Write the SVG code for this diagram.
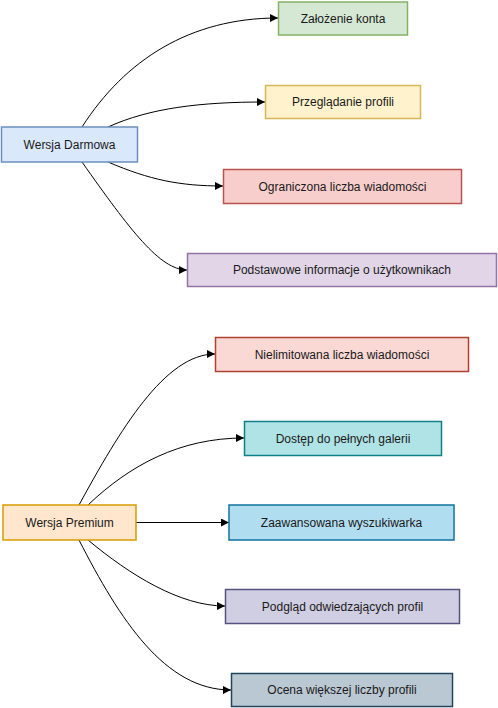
<svg xmlns="http://www.w3.org/2000/svg" width="498" height="708" viewBox="0 0 498 708">
<defs>
<style>
.n rect{stroke-width:1.5}
.n text{font-family:"Liberation Sans",Arial,sans-serif;font-size:12px;fill:#1a1a1a;text-anchor:middle;dominant-baseline:central}
.e path{fill:none;stroke:#000;stroke-width:1}
</style>
<marker id="arr" markerUnits="userSpaceOnUse" markerWidth="9" markerHeight="8" refX="8" refY="4" orient="auto">
<path d="M0,0 L8,4 L0,8 z" fill="#000"/>
</marker>
</defs>
<rect width="498" height="708" fill="#fff"/>
<g id="edges" class="e">
<path d="M82,127 C125,60 190,18 278,18" marker-end="url(#arr)"/>
<path d="M108,127 C150,108 200,102 265,102" marker-end="url(#arr)"/>
<path d="M108,162 C150,180 180,186 223,186" marker-end="url(#arr)"/>
<path d="M82,162 C130,230 160,270 187,270" marker-end="url(#arr)"/>
<path d="M79,505 C120,430 165,354 215,354" marker-end="url(#arr)"/>
<path d="M88,505 C130,465 180,438 244,438" marker-end="url(#arr)"/>
<path d="M136,522.5 L229,522.5" marker-end="url(#arr)"/>
<path d="M88,540 C130,575 180,606 225,606" marker-end="url(#arr)"/>
<path d="M79,540 C120,620 165,690 231,690" marker-end="url(#arr)"/>
</g>
<g id="darmowa" class="n"><rect x="1.5" y="127" width="136" height="35" fill="#dae8fc" stroke="#6c8ebf"/><text x="69.5" y="144.5">Wersja Darmowa</text></g>
<g id="zalozenie" class="n"><rect x="278.5" y="2" width="129" height="33" fill="#d5e8d4" stroke="#82b366"/><text x="343" y="18.5">Założenie konta</text></g>
<g id="przegladanie" class="n"><rect x="265.5" y="85.5" width="155" height="33" fill="#fff2cc" stroke="#d6b656"/><text x="343" y="102">Przeglądanie profili</text></g>
<g id="ograniczona" class="n"><rect x="223.5" y="169.5" width="238" height="34" fill="#f8cecc" stroke="#b85450"/><text x="342.5" y="186.5">Ograniczona liczba wiadomości</text></g>
<g id="podstawowe" class="n"><rect x="187.5" y="253.5" width="309" height="33" fill="#e1d5e7" stroke="#9673a6"/><text x="342" y="270">Podstawowe informacje o użytkownikach</text></g>
<g id="premium" class="n"><rect x="3" y="505" width="133" height="35" fill="#ffe6cc" stroke="#d79b00"/><text x="69.5" y="522.5">Wersja Premium</text></g>
<g id="nielimitowana" class="n"><rect x="215.5" y="337.5" width="253" height="34" fill="#fad9d5" stroke="#ae4132"/><text x="342" y="354.5">Nielimitowana liczba wiadomości</text></g>
<g id="dostep" class="n"><rect x="244.5" y="421.5" width="197" height="34" fill="#b0e3e6" stroke="#0e8088"/><text x="343" y="438.5">Dostęp do pełnych galerii</text></g>
<g id="zaawansowana" class="n"><rect x="229" y="505" width="225" height="35" fill="#b1ddf0" stroke="#10739e"/><text x="341.5" y="522.5">Zaawansowana wyszukiwarka</text></g>
<g id="podglad" class="n"><rect x="225.5" y="589.5" width="234" height="34" fill="#d0cee2" stroke="#56517e"/><text x="342.5" y="606.5">Podgląd odwiedzających profil</text></g>
<g id="ocena" class="n"><rect x="231.5" y="673.5" width="221" height="33" fill="#bac8d3" stroke="#23445d"/><text x="342" y="690">Ocena większej liczby profili</text></g>
</svg>
